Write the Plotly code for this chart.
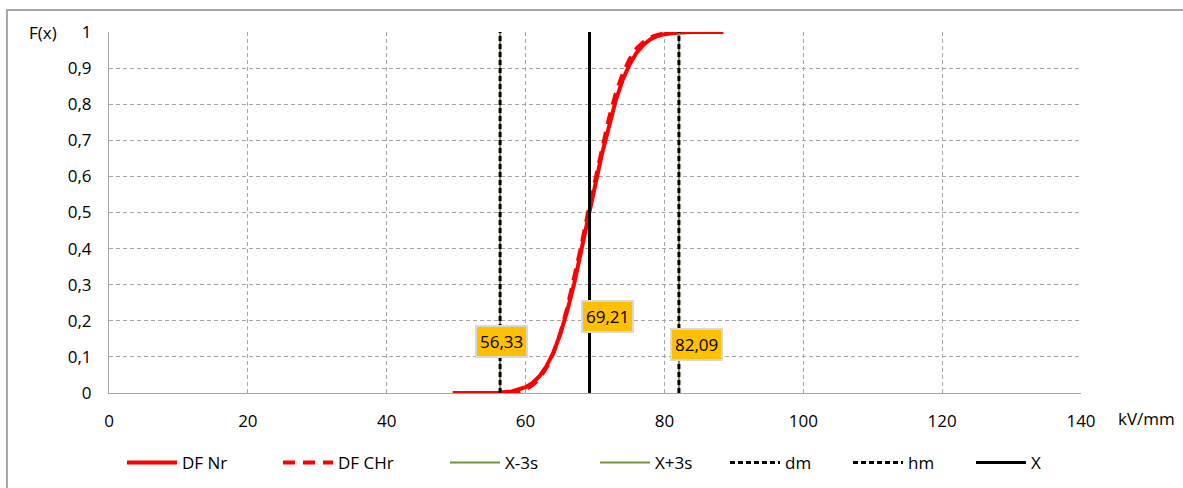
import plotly.graph_objects as go

# Normal distribution function (fitted), kV/mm -> F(x)
nr_x = [49.5, 52, 54, 56, 58, 60, 61, 62, 63, 64, 65, 66, 67, 68, 69, 70,
        71, 72, 73, 74, 75, 76, 77, 78, 79, 80, 82, 84, 86, 88.5]
nr_f = [0.0, 0.0, 0.0002, 0.001, 0.0045, 0.016, 0.028, 0.0465, 0.074, 0.112,
        0.163, 0.227, 0.303, 0.389, 0.480, 0.573, 0.662, 0.742, 0.811, 0.868,
        0.911, 0.943, 0.965, 0.980, 0.989, 0.994, 0.9986, 0.9997, 1.0, 1.0]

# Empirical (cumulative) distribution function
chr_x = [57.5, 59, 60, 61, 62, 63, 64, 65, 66, 67, 68, 69, 70, 71, 72, 73,
         74, 75, 76, 77, 78, 79, 80, 82, 84]
chr_f = [0.0, 0.004, 0.010, 0.022, 0.040, 0.070, 0.110, 0.165, 0.235, 0.315,
         0.405, 0.500, 0.590, 0.680, 0.760, 0.830, 0.885, 0.925, 0.955, 0.972,
         0.985, 0.992, 0.996, 0.999, 1.0]

# Characteristic values
x_mean = 69.21
x_minus_3s = 56.33
x_plus_3s = 82.09
d_m = 56.33
h_m = 82.09

x_ticks = [0, 20, 40, 60, 80, 100, 120, 140]
y_ticks = [0, 0.1, 0.2, 0.3, 0.4, 0.5, 0.6, 0.7, 0.8, 0.9, 1]

FONT = "Open Sans"
FSIZE = 17
GREEN = "#77933C"

fig = go.Figure()

fig.add_trace(go.Scatter(x=nr_x, y=nr_f, mode="lines", name="DF Nr",
                         line=dict(color="#FF0000", width=4), legend="legend"))
fig.add_trace(go.Scatter(x=chr_x, y=chr_f, mode="lines", name="DF CHr",
                         line=dict(color="#FF0000", width=4, dash="12px,8px"),
                         legend="legend2"))
fig.add_trace(go.Scatter(x=[x_minus_3s, x_minus_3s], y=[0, 1], mode="lines",
                         name="X-3s", line=dict(color=GREEN, width=2),
                         legend="legend3"))
fig.add_trace(go.Scatter(x=[x_plus_3s, x_plus_3s], y=[0, 1], mode="lines",
                         name="X+3s", line=dict(color=GREEN, width=2),
                         legend="legend4"))
fig.add_trace(go.Scatter(x=[d_m, d_m], y=[0, 1], mode="lines", name="dm",
                         line=dict(color="#000000", width=3, dash="5px,3px"),
                         legend="legend5"))
fig.add_trace(go.Scatter(x=[h_m, h_m], y=[0, 1], mode="lines", name="hm",
                         line=dict(color="#000000", width=3, dash="5px,3px"),
                         legend="legend6"))
fig.add_trace(go.Scatter(x=[x_mean, x_mean], y=[0, 1], mode="lines", name="X",
                         line=dict(color="#000000", width=3),
                         legend="legend7"))


def fmt(v):
    return f"{v:.2f}".replace(".", ",")


# Value labels for the vertical lines
for val, ypos, dx in [(d_m, 0.144, 1), (x_mean, 0.213, 18), (h_m, 0.133, 18)]:
    fig.add_annotation(x=val, y=ypos, xref="x", yref="y", text=fmt(val),
                       showarrow=False, xshift=dx,
                       font=dict(family=FONT, size=FSIZE, color="#000000"),
                       bgcolor="#FFC000", bordercolor="#D9D9D9",
                       borderwidth=2, borderpad=3)

fig.add_annotation(x=-0.051, y=1.0, xref="paper", yref="paper", text="F(x)",
                   showarrow=False, xanchor="right", yanchor="middle",
                   font=dict(family=FONT, size=FSIZE, color="#000000"))
fig.add_annotation(x=1.036, y=-0.072, xref="paper", yref="paper", text="kV/mm",
                   showarrow=False, xanchor="left", yanchor="middle",
                   font=dict(family=FONT, size=FSIZE, color="#000000"))

# Outer chart frame
fig.add_shape(type="rect", xref="paper", yref="paper",
              x0=-0.105, x1=1.12, y0=-0.35, y1=1.061,
              line=dict(color="#A6A6A6", width=2), layer="below")

legend_common = dict(orientation="h", yanchor="middle", y=-0.194,
                     xanchor="left", bgcolor="rgba(0,0,0,0)", itemwidth=50,
                     font=dict(family=FONT, size=FSIZE, color="#000000"))
legend_px = [122, 278, 445, 595, 725, 848, 971]
legend_names = ["legend", "legend2", "legend3", "legend4", "legend5",
                "legend6", "legend7"]
legends = {}
for name, px in zip(legend_names, legend_px):
    legends[name] = dict(legend_common, x=(px - 109) / 972)

fig.update_layout(
    width=1183, height=488,
    margin=dict(l=109, r=102, t=32, b=95, autoexpand=False),
    paper_bgcolor="white", plot_bgcolor="white",
    separators=", ",
    font=dict(family=FONT, size=FSIZE, color="#000000"),
    xaxis=dict(range=[0, 140], tickvals=x_ticks, showgrid=True,
               gridcolor="#A6A6A6", griddash="4px,3px", gridwidth=1,
               showline=True, linecolor="#A6A6A6", linewidth=1,
               zeroline=False, ticks="", ticklabelstandoff=13),
    yaxis=dict(range=[0, 1], tickvals=y_ticks, showgrid=True,
               gridcolor="#A6A6A6", griddash="4px,3px", gridwidth=1,
               showline=True, linecolor="#A6A6A6", linewidth=1,
               zeroline=False, ticks="", ticklabelstandoff=13),
    showlegend=True,
    **legends,
)

fig.write_html("out.html")
